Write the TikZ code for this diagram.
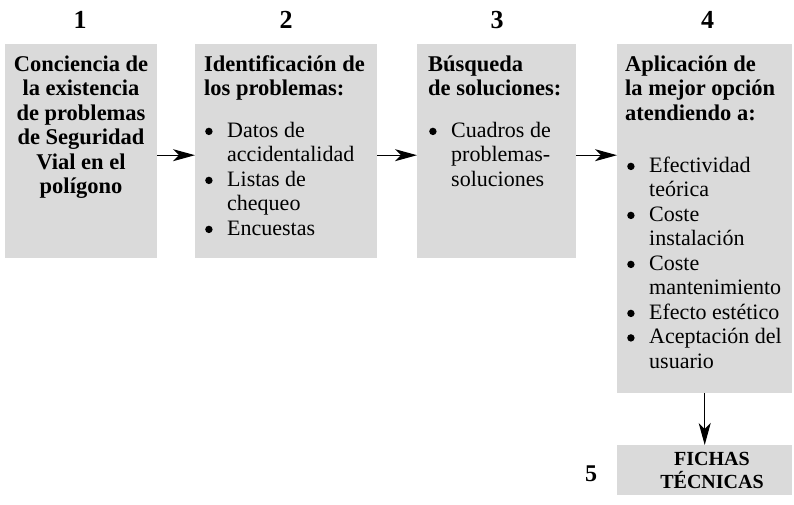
\documentclass[tikz,border=0pt]{standalone}
\usepackage{fontspec}
\setmainfont{Liberation Serif}
\usetikzlibrary{arrows.meta}
\definecolor{boxgray}{RGB}{218,218,218}
\newcommand{\bul}{\makebox[22pt][l]{\tikz[baseline=0pt]\fill[black] (3.8pt,5.8pt) circle (3.7pt);}}
\newcommand{\ind}{\hspace*{22pt}}
\tikzset{
  graybox/.style={fill=boxgray, draw=none, inner sep=0pt, anchor=north west},
  title/.style={font=\fontsize{22.5}{24.5}\selectfont\bfseries, inner sep=0pt, anchor=north west, align=left},
  body/.style={font=\fontsize{22}{24.5}\selectfont, inner sep=0pt, anchor=north west, align=left},
  num/.style={font=\fontsize{26}{28}\selectfont\bfseries, inner sep=0pt, anchor=base},
  arr/.style={-{Stealth[length=22pt,width=12pt,inset=6pt]}, line width=1.2pt}
}
\begin{document}
\begin{tikzpicture}[x=1pt,y=1pt]
\useasboundingbox (0,0) rectangle (794,-505);
% boxes
\node[graybox, minimum width=152pt, minimum height=214pt] (b1) at (5,-44) {};
\node[graybox, minimum width=182pt, minimum height=214pt] (b2) at (195,-44) {};
\node[graybox, minimum width=159pt, minimum height=214pt] (b3) at (417,-44) {};
\node[graybox, minimum width=175pt, minimum height=349pt] (b4) at (617,-44) {};
\node[graybox, minimum width=175pt, minimum height=50pt] (b5) at (617,-445) {};
% numbers
\node[num] (n1) at (80,-29) {1};
\node[num] (n2) at (286,-29) {2};
\node[num] (n3) at (497,-29) {3};
\node[num] (n4) at (707.5,-29) {4};
\node[font=\fontsize{24}{26}\selectfont\bfseries, inner sep=0pt] (n5) at (591,-474) {5};
% texts
\node[title, anchor=north, align=center] (t1) at (81,-53.85) {\strut Conciencia de\\la existencia\\de problemas\\de Seguridad\\Vial en el\\polígono};
\node[title] (t2) at (204,-53.85) {\strut Identificación de\\los problemas:};
\node[body] (l2) at (205,-119.85) {\strut\bul Datos de\\\ind accidentalidad\\\bul Listas de\\\ind chequeo\\\bul Encuestas};
\node[title] (t3) at (428,-53.85) {\strut Búsqueda\\de soluciones:};
\node[body] (l3) at (429,-119.85) {\strut\bul Cuadros de\\\ind problemas-\\\ind soluciones};
\node[title] (t4) at (625,-53.85) {\strut Aplicación de\\la mejor opción\\atendiendo a:};
\node[body] (l4) at (627,-154.85) {\strut\bul Efectividad\\\ind teórica\\\bul Coste\\\ind instalación\\\bul Coste\\\ind mantenimiento\\\bul Efecto estético\\\bul Aceptación del\\\ind usuario};
\node[font=\fontsize{20}{23}\selectfont\bfseries, align=center, inner sep=0pt] (t5) at (712,-470) {FICHAS\\TÉCNICAS};
% arrows
\draw[arr] ([yshift=-4pt]b1.east) -- ([yshift=-4pt]b2.west);
\draw[arr] ([yshift=-4pt]b2.east) -- ([yshift=-4pt]b3.west);
\draw[arr] ([yshift=-4pt]b3.east) -- ([yshift=-4pt]b4.west |- b3.east);
\draw[arr] (b4.south) -- (b5.north);
\end{tikzpicture}
\end{document}
